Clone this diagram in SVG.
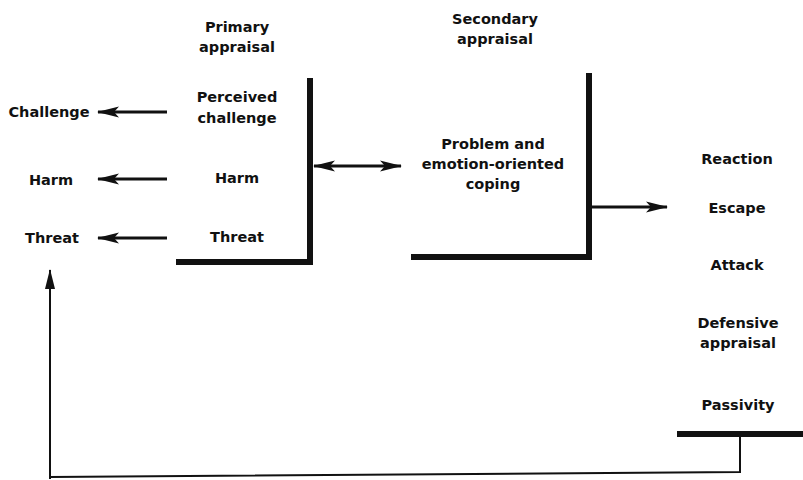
<svg xmlns="http://www.w3.org/2000/svg" width="803" height="480" viewBox="0 0 803 480">
  <defs>
    <style>
      text { font-family: "DejaVu Sans", "Liberation Sans", Arial, sans-serif; font-weight: bold; font-size: 14.5px; fill: #111; text-anchor: middle; }
      .bar { stroke: #111; stroke-width: 6; fill: none; stroke-linecap: square; }
      .thin { stroke: #111; stroke-width: 2; fill: none; }
      .arrow { stroke: #111; stroke-width: 3; fill: none; }
    </style>
    <!-- long tapered arrowhead, sized in user units -->
    <marker id="head" viewBox="0 0 22 12" refX="21" refY="6" markerWidth="22" markerHeight="12" orient="auto-start-reverse" markerUnits="userSpaceOnUse">
      <path d="M0,0.5 L22,6 L0,11.5 L5,6 Z" fill="#111"/>
    </marker>
    <marker id="headThin" viewBox="0 0 20 12" refX="19" refY="6" markerWidth="20" markerHeight="12" orient="auto" markerUnits="userSpaceOnUse">
      <path d="M0,1 L20,6 L0,11 Z" fill="#111"/>
    </marker>
  </defs>

  <rect width="803" height="480" fill="#fff"/>

  <g id="primary-appraisal">
    <text x="237" y="32">Primary</text>
    <text x="237" y="52">appraisal</text>
    <text x="237" y="102">Perceived</text>
    <text x="237" y="123">challenge</text>
    <text x="237" y="183">Harm</text>
    <text x="237" y="242">Threat</text>
    <path class="bar" d="M310,81 V262 H179"/>
  </g>

  <g id="outcomes">
    <text x="49" y="117">Challenge</text>
    <text x="51" y="185">Harm</text>
    <text x="52" y="243">Threat</text>
  </g>

  <g id="secondary-appraisal">
    <text x="495" y="24">Secondary</text>
    <text x="495" y="44">appraisal</text>
    <text x="493" y="149">Problem and</text>
    <text x="493" y="169">emotion-oriented</text>
    <text x="493" y="189">coping</text>
    <path class="bar" d="M589,76 V257 H414"/>
  </g>

  <g id="reaction">
    <text x="737" y="164">Reaction</text>
    <text x="737" y="213">Escape</text>
    <text x="737" y="270">Attack</text>
    <text x="738" y="328">Defensive</text>
    <text x="738" y="348">appraisal</text>
    <text x="738" y="410">Passivity</text>
    <path class="bar" d="M680,434 H803"/>
  </g>

  <g id="connectors">
    <path class="arrow" d="M167,112 H98" marker-end="url(#head)"/>
    <path class="arrow" d="M167,179 H98" marker-end="url(#head)"/>
    <path class="arrow" d="M167,238 H98" marker-end="url(#head)"/>
    <path class="arrow" d="M314,166 H401" marker-start="url(#head)" marker-end="url(#head)"/>
    <path class="arrow" d="M592,207 H667" marker-end="url(#head)"/>
    <path class="thin" d="M740,436 V472 L50,477"/>
    <path class="thin" d="M50,479 V270" marker-end="url(#headThin)"/>
  </g>
</svg>
